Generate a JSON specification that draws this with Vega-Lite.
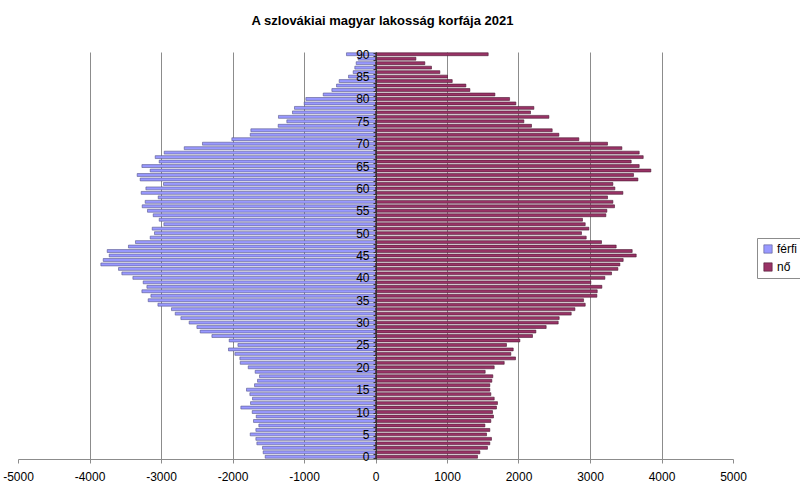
{
  "$schema": "https://vega.github.io/schema/vega-lite/v6.json",
  "width": 715,
  "height": 407,
  "autosize": {"type": "none"},
  "padding": {"left": 18, "top": 52, "right": 67, "bottom": 38},
  "background": "white",
  "title": {
    "text": "A szlovákiai magyar lakosság korfája 2021",
    "font": "Liberation Sans",
    "fontSize": 13,
    "fontWeight": "bold",
    "color": "black",
    "anchor": "middle",
    "baseline": "alphabetic",
    "offset": 8,
    "dx": 7
  },
  "config": {
    "view": {"stroke": null},
    "axis": {"labelFont": "Liberation Sans", "labelFontSize": 12, "labelColor": "black"}
  },
  "data": {
    "values": [
      {"age": 0, "férfi": -1543, "nő": 1427},
      {"age": 1, "férfi": -1571, "nő": 1460},
      {"age": 2, "férfi": -1580, "nő": 1566},
      {"age": 3, "férfi": -1659, "nő": 1599},
      {"age": 4, "férfi": -1673, "nő": 1622},
      {"age": 5, "férfi": -1752, "nő": 1553},
      {"age": 6, "férfi": -1673, "nő": 1599},
      {"age": 7, "férfi": -1631, "nő": 1530},
      {"age": 8, "férfi": -1706, "nő": 1613},
      {"age": 9, "férfi": -1668, "nő": 1650},
      {"age": 10, "férfi": -1724, "nő": 1637},
      {"age": 11, "férfi": -1883, "nő": 1692},
      {"age": 12, "férfi": -1748, "nő": 1706},
      {"age": 13, "férfi": -1720, "nő": 1660},
      {"age": 14, "férfi": -1757, "nő": 1613},
      {"age": 15, "férfi": -1804, "nő": 1599},
      {"age": 16, "férfi": -1692, "nő": 1599},
      {"age": 17, "férfi": -1650, "nő": 1627},
      {"age": 18, "férfi": -1622, "nő": 1641},
      {"age": 19, "férfi": -1683, "nő": 1534},
      {"age": 20, "férfi": -1780, "nő": 1660},
      {"age": 21, "férfi": -1892, "nő": 1800},
      {"age": 22, "férfi": -1897, "nő": 1958},
      {"age": 23, "férfi": -1967, "nő": 1893},
      {"age": 24, "férfi": -2056, "nő": 1926},
      {"age": 25, "férfi": -1924, "nő": 1832},
      {"age": 26, "férfi": -2046, "nő": 2019},
      {"age": 27, "férfi": -2288, "nő": 2196},
      {"age": 28, "férfi": -2452, "nő": 2243},
      {"age": 29, "férfi": -2498, "nő": 2387},
      {"age": 30, "férfi": -2606, "nő": 2555},
      {"age": 31, "férfi": -2722, "nő": 2569},
      {"age": 32, "férfi": -2801, "nő": 2737},
      {"age": 33, "férfi": -2853, "nő": 2789},
      {"age": 34, "férfi": -3043, "nő": 2933},
      {"age": 35, "férfi": -3179, "nő": 2910},
      {"age": 36, "férfi": -3141, "nő": 3096},
      {"age": 37, "férfi": -3267, "nő": 3101},
      {"age": 38, "férfi": -3197, "nő": 3166},
      {"age": 39, "férfi": -3249, "nő": 3012},
      {"age": 40, "férfi": -3393, "nő": 3208},
      {"age": 41, "férfi": -3547, "nő": 3301},
      {"age": 42, "férfi": -3594, "nő": 3390},
      {"age": 43, "férfi": -3841, "nő": 3418},
      {"age": 44, "férfi": -3808, "nő": 3464},
      {"age": 45, "férfi": -3724, "nő": 3646},
      {"age": 46, "férfi": -3752, "nő": 3590},
      {"age": 47, "férfi": -3455, "nő": 3366},
      {"age": 48, "férfi": -3357, "nő": 3161},
      {"age": 49, "férfi": -3151, "nő": 2947},
      {"age": 50, "férfi": -3091, "nő": 2881},
      {"age": 51, "férfi": -3123, "nő": 2984},
      {"age": 52, "férfi": -2960, "nő": 2933},
      {"age": 53, "férfi": -3025, "nő": 2895},
      {"age": 54, "férfi": -3109, "nő": 3222},
      {"age": 55, "férfi": -3189, "nő": 3236},
      {"age": 56, "férfi": -3263, "nő": 3343},
      {"age": 57, "férfi": -3221, "nő": 3320},
      {"age": 58, "férfi": -3039, "nő": 3245},
      {"age": 59, "férfi": -3277, "nő": 3460},
      {"age": 60, "férfi": -3211, "nő": 3348},
      {"age": 61, "férfi": -2965, "nő": 3320},
      {"age": 62, "férfi": -3291, "nő": 3670},
      {"age": 63, "férfi": -3333, "nő": 3609},
      {"age": 64, "férfi": -3151, "nő": 3851},
      {"age": 65, "férfi": -3267, "nő": 3688},
      {"age": 66, "férfi": -3025, "nő": 3576},
      {"age": 67, "férfi": -3081, "nő": 3744},
      {"age": 68, "férfi": -2955, "nő": 3688},
      {"age": 69, "férfi": -2675, "nő": 3446},
      {"age": 70, "férfi": -2420, "nő": 3245},
      {"age": 71, "férfi": -2009, "nő": 2844},
      {"age": 72, "férfi": -1752, "nő": 2565},
      {"age": 73, "férfi": -1743, "nő": 2471},
      {"age": 74, "férfi": -1361, "nő": 2182},
      {"age": 75, "férfi": -1240, "nő": 2075},
      {"age": 76, "férfi": -1357, "nő": 2425},
      {"age": 77, "férfi": -1161, "nő": 2168},
      {"age": 78, "férfi": -1133, "nő": 2215},
      {"age": 79, "férfi": -997, "nő": 1963},
      {"age": 80, "férfi": -974, "nő": 1875},
      {"age": 81, "férfi": -731, "nő": 1670},
      {"age": 82, "férfi": -610, "nő": 1320},
      {"age": 83, "férfi": -545, "nő": 1264},
      {"age": 84, "férfi": -508, "nő": 1073},
      {"age": 85, "férfi": -377, "nő": 1007},
      {"age": 86, "férfi": -312, "nő": 900},
      {"age": 87, "férfi": -289, "nő": 783},
      {"age": 88, "férfi": -270, "nő": 690},
      {"age": 89, "férfi": -242, "nő": 565},
      {"age": 90, "férfi": -406, "nő": 1576}
    ]
  },
  "transform": [{"fold": ["férfi", "nő"], "as": ["sex", "value"]}],
  "mark": {"type": "bar", "strokeWidth": 0.6},
  "encoding": {
    "y": {
      "field": "age",
      "type": "ordinal",
      "sort": "descending",
      "scale": {"paddingInner": 0.35, "paddingOuter": 0.175},
      "axis": {
        "title": null,
        "orient": "left",
        "offset": -358,
        "zindex": 2,
        "grid": false,
        "domainColor": "#333333",
        "tickColor": "#333333",
        "tickSize": 3,
        "tickBand": "extent",
        "labelPadding": 4,
        "labelAngle": 0,
        "labelExpr": "datum.value % 5 == 0 ? datum.label : ''"
      }
    },
    "x": {
      "field": "value",
      "type": "quantitative",
      "scale": {"domain": [-5000, 5000], "nice": false},
      "axis": {
        "title": null,
        "values": [-5000, -4000, -3000, -2000, -1000, 0, 1000, 2000, 3000, 4000, 5000],
        "labelExpr": "'' + datum.value",
        "grid": true,
        "gridColor": {"condition": {"test": "abs(datum.value) == 5000", "value": "transparent"}, "value": "#8c8c8c"},
        "domainColor": "#8c8c8c",
        "tickColor": "#8c8c8c",
        "tickSize": 4,
        "labelPadding": 8,
        "labelFlush": false
      }
    },
    "color": {
      "field": "sex",
      "type": "nominal",
      "scale": {"domain": ["férfi", "nő"], "range": ["#9999ff", "#993366"]},
      "legend": {
        "title": null,
        "orient": "none",
        "legendX": 739,
        "legendY": 186,
        "symbolType": "square",
        "symbolSize": 70,
        "symbolStrokeColor": "#333333",
        "symbolStrokeWidth": 0.6,
        "labelFont": "Liberation Sans",
        "labelFontSize": 12,
        "labelColor": "black",
        "strokeColor": "#8c8c8c",
        "padding": 5,
        "rowPadding": 6,
        "labelOffset": 3
      }
    },
    "stroke": {
      "field": "sex",
      "type": "nominal",
      "scale": {"domain": ["férfi", "nő"], "range": ["#55558a", "#4a1a33"]},
      "legend": null
    }
  }
}
